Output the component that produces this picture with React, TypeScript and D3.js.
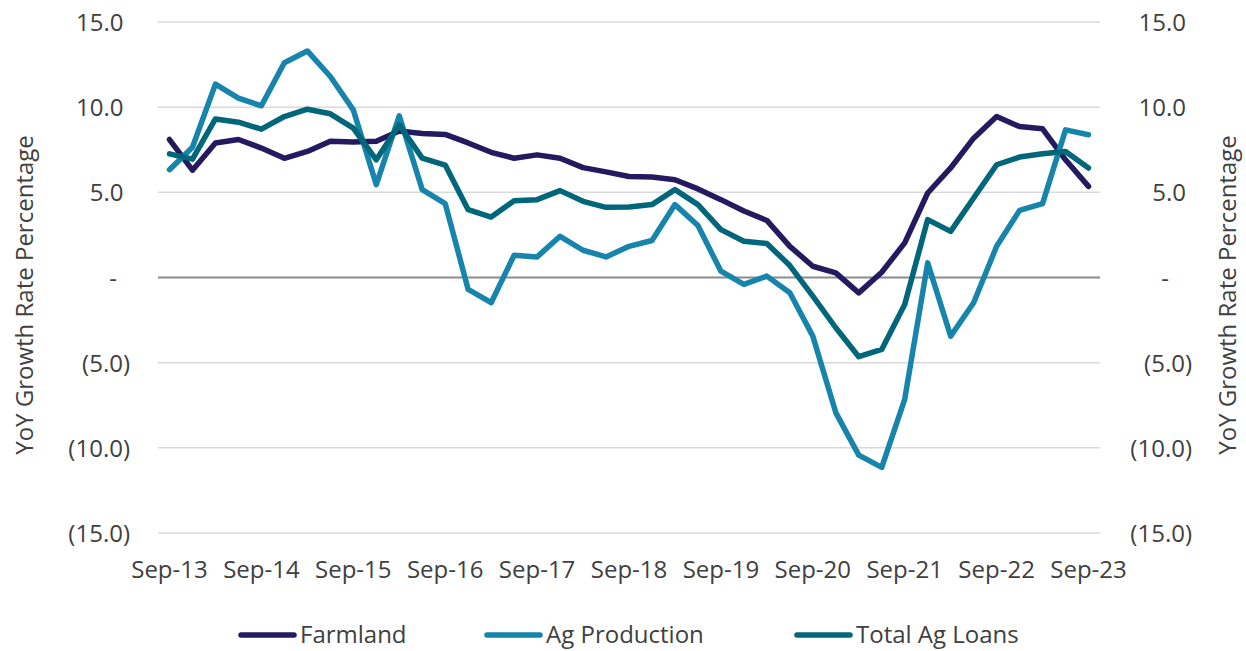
import * as d3 from 'd3';

// quarterly observations, Sep-13 .. Sep-23
const quarters = [
  'Sep-13', 'Dec-13', 'Mar-14', 'Jun-14', 'Sep-14', 'Dec-14', 'Mar-15', 'Jun-15',
  'Sep-15', 'Dec-15', 'Mar-16', 'Jun-16', 'Sep-16', 'Dec-16', 'Mar-17', 'Jun-17',
  'Sep-17', 'Dec-17', 'Mar-18', 'Jun-18', 'Sep-18', 'Dec-18', 'Mar-19', 'Jun-19',
  'Sep-19', 'Dec-19', 'Mar-20', 'Jun-20', 'Sep-20', 'Dec-20', 'Mar-21', 'Jun-21',
  'Sep-21', 'Dec-21', 'Mar-22', 'Jun-22', 'Sep-22', 'Dec-22', 'Mar-23', 'Jun-23',
  'Sep-23',
];

const xTickLabels = ['Sep-13', 'Sep-14', 'Sep-15', 'Sep-16', 'Sep-17', 'Sep-18', 'Sep-19', 'Sep-20', 'Sep-21', 'Sep-22', 'Sep-23'];

const farmland = [
  8.1, 6.3, 7.9, 8.1, 7.6, 7.0, 7.4, 8.0, 7.95, 8.0, 8.6, 8.45, 8.4,
  7.9, 7.35, 7.0, 7.2, 7.0, 6.45, 6.2, 5.93, 5.9, 5.74, 5.2, 4.57, 3.9, 3.35,
  1.83, 0.66, 0.27, -0.9, 0.31, 2.03, 4.96, 6.43, 8.18, 9.45, 8.86, 8.73, 6.91, 5.35,
];

const agProduction = [
  6.33, 7.65, 11.35, 10.53, 10.08, 12.61, 13.3, 11.8, 9.84, 5.45, 9.49, 5.16, 4.34,
  -0.7, -1.48, 1.31, 1.21, 2.42, 1.6, 1.21, 1.83, 2.17, 4.28, 3.05, 0.37, -0.4, 0.08,
  -0.9, -3.44, -7.93, -10.43, -11.15, -7.15, 0.86, -3.44, -1.48, 1.83, 3.94, 4.34, 8.67, 8.38,
];

const totalAgLoans = [
  7.26, 6.95, 9.31, 9.12, 8.71, 9.45, 9.88, 9.61, 8.77, 6.91, 8.96, 7.01, 6.6,
  3.98, 3.55, 4.51, 4.57, 5.1, 4.47, 4.12, 4.14, 4.28, 5.16, 4.28, 2.81, 2.13, 2.0,
  0.7, -1.09, -2.95, -4.65, -4.22, -1.58, 3.4, 2.71, 4.67, 6.62, 7.07, 7.26, 7.4, 6.43,
];

const yTicks = [-15, -10, -5, 0, 5, 10, 15];

const seriesNames = ['Farmland', 'Ag Production', 'Total Ag Loans'];
const seriesColors = ['#231a5f', '#1684ab', '#00667a'];

const fmt = (v: number) => (v === 0 ? '-' : v < 0 ? `(${Math.abs(v).toFixed(1)})` : v.toFixed(1));

const W = 1246;
const H = 651;
const labelColor = '#404040';
const font = '"Open Sans", sans-serif';

export default function App() {
  const x = d3.scaleBand<string>().domain(quarters).range([158, 1100]);
  const y = d3.scaleLinear().domain([-15, 15]).range([533, 22]);
  const cx = (q: string) => (x(q) as number) + x.bandwidth() / 2;

  const line = d3
    .line<number>()
    .x((_, i) => cx(quarters[i]))
    .y((d) => y(d));

  const series = [farmland, agProduction, totalAgLoans];

  // label anchor: negatives hang a closing paren past the digits
  const leftX = (v: number) => (v < 0 ? 130 : v === 0 ? 117 : 123.5);
  const rightX = (v: number) => (v < 0 ? 1192 : v === 0 ? 1169 : 1186);

  const legendX = [241, 487, 797];

  return (
    <svg width={W} height={H} style={{ position: 'absolute', left: 0, top: 0, background: '#fff' }} fontFamily={font}>
      {/* gridlines */}
      {yTicks.map((t) => (
        <line
          key={t}
          x1={158}
          x2={1100}
          y1={y(t)}
          y2={y(t)}
          stroke={t === 0 ? '#8c8c8c' : '#d9d9d9'}
          strokeWidth={t === 0 ? 2 : 1.5}
        />
      ))}

      {/* y tick labels, both sides */}
      {yTicks.map((t) => (
        <g key={'l' + t} fill={labelColor} fontSize={24}>
          <text x={leftX(t)} y={y(t) + 9} textAnchor="end">{fmt(t)}</text>
          <text x={rightX(t)} y={y(t) + 9} textAnchor="end">{fmt(t)}</text>
        </g>
      ))}

      {/* axis titles */}
      <text
        transform="translate(33,295) rotate(-90)"
        textAnchor="middle"
        fontSize={24}
        fill={labelColor}
      >
        YoY Growth Rate Percentage
      </text>
      <text
        transform="translate(1236,295) rotate(-90)"
        textAnchor="middle"
        fontSize={24}
        fill={labelColor}
      >
        YoY Growth Rate Percentage
      </text>

      {/* x labels */}
      {xTickLabels.map((q) => (
        <text key={q} x={cx(q)} y={578} textAnchor="middle" fontSize={24} fill={labelColor}>
          {q}
        </text>
      ))}

      {/* lines */}
      {series.map((s, i) => (
        <path
          key={seriesNames[i]}
          d={line(s) as string}
          fill="none"
          stroke={seriesColors[i]}
          strokeWidth={5.5}
          strokeLinejoin="round"
          strokeLinecap="round"
        />
      ))}

      {/* legend */}
      {seriesNames.map((name, i) => (
        <g key={name}>
          <line
            x1={legendX[i]}
            x2={legendX[i] + 53}
            y1={635}
            y2={635}
            stroke={seriesColors[i]}
            strokeWidth={5.5}
            strokeLinecap="round"
          />
          <text x={legendX[i] + 59} y={643} fontSize={24} fill={labelColor}>
            {name}
          </text>
        </g>
      ))}
    </svg>
  );
}
